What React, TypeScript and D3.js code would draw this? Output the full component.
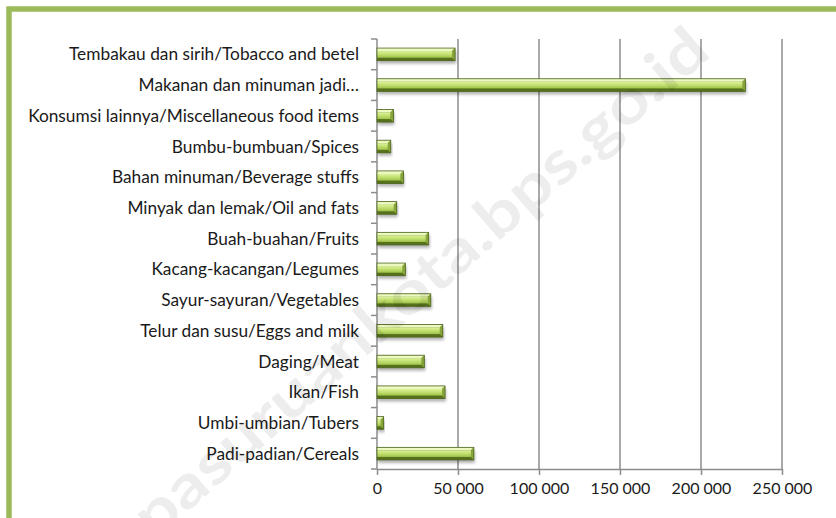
import * as d3 from "d3";
import { useEffect, useRef } from "react";

// categories listed bottom to top, as the chart shows them
const categories = [
    "Padi-padian/Cereals",
    "Umbi-umbian/Tubers",
    "Ikan/Fish",
    "Daging/Meat",
    "Telur dan susu/Eggs and milk",
    "Sayur-sayuran/Vegetables",
    "Kacang-kacangan/Legumes",
    "Buah-buahan/Fruits",
    "Minyak dan lemak/Oil and fats",
    "Bahan minuman/Beverage stuffs",
    "Bumbu-bumbuan/Spices",
    "Konsumsi lainnya/Miscellaneous food items",
    "Makanan dan minuman jadi…",
    "Tembakau dan sirih/Tobacco and betel",
];
const values = [59800, 4100, 42000, 29200, 40600, 33200, 17500, 31900, 12200, 16300, 8500, 10100, 227400, 48200];
const xTicks = [0, 50000, 100000, 150000, 200000, 250000];

const W = 836;
const H = 518;

function App() {
    const ref = useRef(null);

    useEffect(() => {
        const margin = { top: 39, right: 54, bottom: 49, left: 377 };
        const width = W - margin.left - margin.right;
        const height = H - margin.top - margin.bottom;

        const root = d3.select(ref.current);
        root.selectAll("*").remove();

        const defs = root.append("defs");
        const grad = defs.append("linearGradient")
            .attr("id", "face").attr("x1", 0).attr("y1", 0).attr("x2", 0).attr("y2", 1);
        grad.append("stop").attr("offset", "0%").attr("stop-color", "#dff29a");
        grad.append("stop").attr("offset", "55%").attr("stop-color", "#bedd6c");
        grad.append("stop").attr("offset", "100%").attr("stop-color", "#9fc24a");
        const blur = defs.append("filter").attr("id", "shadow")
            .attr("x", "-5%").attr("y", "-50%").attr("width", "110%").attr("height", "200%");
        blur.append("feGaussianBlur").attr("stdDeviation", 1.8);

        // outer green frame
        root.append("rect")
            .attr("x", 9).attr("y", 9)
            .attr("width", 900).attr("height", 600)
            .attr("fill", "#fff")
            .attr("stroke", "#9bbb59").attr("stroke-width", 5.5);

        const svg = root.append("g")
            .attr("transform", `translate(${margin.left},${margin.top})`);

        const x = d3.scaleLinear().domain([0, 250000]).range([0, width]);
        const y = d3.scaleBand()
            .domain([...categories].reverse())
            .range([0, height])
            .paddingInner(0.59).paddingOuter(0.295);
        const yCat = d3.scaleBand().domain([...categories].reverse()).range([0, height]);

        // vertical gridlines
        svg.selectAll(".grid")
            .data(xTicks.slice(1))
            .enter().append("line")
            .attr("x1", d => x(d)).attr("x2", d => x(d))
            .attr("y1", 0).attr("y2", height)
            .attr("stroke", "#8c8c8c").attr("stroke-width", 1.5);

        // x axis
        const xAxis = svg.append("g")
            .attr("transform", `translate(0,${height})`)
            .call(d3.axisBottom(x).tickValues(xTicks).tickSize(6).tickSizeOuter(0)
                .tickFormat(d => d3.format(",")(d as number).replace(/,/g, " ")));
        xAxis.select(".domain").attr("stroke", "#8c8c8c").attr("stroke-width", 1.5);
        xAxis.selectAll(".tick line").attr("stroke", "#8c8c8c").attr("stroke-width", 1.5);
        xAxis.selectAll(".tick text")
            .attr("y", 14)
            .attr("font-family", "Lato, 'Open Sans', sans-serif")
            .attr("font-size", 16).attr("fill", "#1a1a1a");

        // y axis with category boundary ticks
        svg.append("line")
            .attr("x1", 0).attr("x2", 0).attr("y1", 0).attr("y2", height)
            .attr("stroke", "#8c8c8c").attr("stroke-width", 1.5);
        svg.selectAll(".ytick")
            .data(categories)
            .enter().append("line")
            .attr("x1", -6).attr("x2", 0)
            .attr("y1", d => yCat(d)!).attr("y2", d => yCat(d)!)
            .attr("stroke", "#8c8c8c").attr("stroke-width", 1.5);
        svg.append("line")
            .attr("x1", -6).attr("x2", 0).attr("y1", height).attr("y2", height)
            .attr("stroke", "#8c8c8c").attr("stroke-width", 1.5);

        svg.selectAll(".label")
            .data(categories)
            .enter().append("text")
            .attr("x", -18)
            .attr("y", d => yCat(d)! + yCat.bandwidth() / 2)
            .attr("dy", "0.35em")
            .attr("text-anchor", "end")
            .attr("font-family", "Lato, 'Open Sans', sans-serif")
            .attr("font-size", 17.3).attr("fill", "#1a1a1a")
            .text(d => d);

        const data = categories.map((c, i) => ({ c, v: values[i] }));
        const bh = y.bandwidth();
        const b = 3;

        const bars = svg.selectAll(".bar")
            .data(data)
            .enter().append("g")
            .attr("transform", d => `translate(0,${y(d.c)})`);

        // soft shadow
        bars.append("rect")
            .attr("x", 1).attr("y", 3)
            .attr("width", d => x(d.v)).attr("height", bh)
            .attr("fill", "#000").attr("opacity", 0.3)
            .attr("filter", "url(#shadow)");
        // dark base
        bars.append("rect")
            .attr("x", 0).attr("y", 0)
            .attr("width", d => x(d.v)).attr("height", bh)
            .attr("fill", "#6d8a2a");
        // top bevel
        bars.append("path")
            .attr("d", d => {
                const w = x(d.v);
                return `M0,0L${w},0L${w - b},${b}L0,${b}Z`;
            })
            .attr("fill", "#edf9c2");
        // bottom bevel
        bars.append("path")
            .attr("d", d => {
                const w = x(d.v);
                return `M0,${bh}L${w},${bh}L${w - b},${bh - b}L0,${bh - b}Z`;
            })
            .attr("fill", "#56701c");
        // right bevel
        bars.append("path")
            .attr("d", d => {
                const w = x(d.v);
                return `M${w},0L${w},${bh}L${w - b},${bh - b}L${w - b},${b}Z`;
            })
            .attr("fill", "#87a53a");
        // face
        bars.append("rect")
            .attr("x", 0).attr("y", b)
            .attr("width", d => Math.max(0, x(d.v) - b)).attr("height", bh - 2 * b)
            .attr("fill", "url(#face)");
        // outline
        bars.append("rect")
            .attr("x", 0).attr("y", 0)
            .attr("width", d => x(d.v)).attr("height", bh)
            .attr("fill", "none").attr("stroke", "#4f6720").attr("stroke-width", 0.8);

        // watermark
        root.append("text")
            .attr("transform", "translate(420,282) rotate(-41)")
            .attr("text-anchor", "middle")
            .attr("dy", "0.35em")
            .attr("font-family", "Lato, sans-serif")
            .attr("font-weight", "bold")
            .attr("font-size", 60)
            .attr("textLength", 740)
            .attr("lengthAdjust", "spacingAndGlyphs")
            .attr("fill", "#000").attr("opacity", 0.065)
            .text("pasuruankota.bps.go.id");
    }, []);

    return (
        <svg ref={ref} width={W} height={H}
            style={{ position: "absolute", left: 0, top: 0, background: "#fff" }} />
    );
}

export default App;
